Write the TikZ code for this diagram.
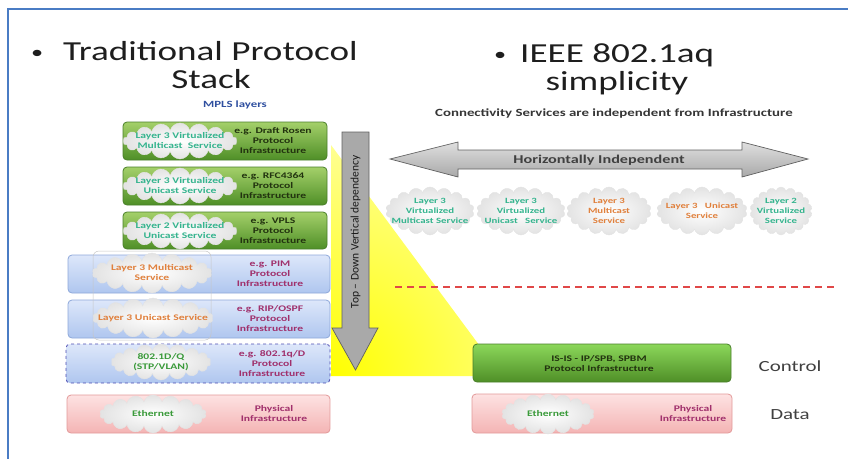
\documentclass[tikz,border=0pt]{standalone}
\usepackage{fontspec}
\setmainfont{Carlito}[FakeStretch=1.35]
\newfontfamily\narrowfont{Carlito}
\usetikzlibrary{shapes.symbols,fit,positioning}

\definecolor{framecol}{HTML}{4A7CC4}
\definecolor{titlecol}{HTML}{1E1E1E}
\definecolor{mplscol}{HTML}{2F4F9F}
\definecolor{greentop}{HTML}{A4D06A}
\definecolor{greenbot}{HTML}{4F8F27}
\definecolor{greenline}{HTML}{4A7F2A}
\definecolor{bluetop}{HTML}{DDE7FA}
\definecolor{bluebot}{HTML}{AFC6EF}
\definecolor{blueline}{HTML}{8EA8DA}
\definecolor{redtop}{HTML}{FDE2E2}
\definecolor{redbot}{HTML}{F4B4B4}
\definecolor{redline}{HTML}{E29A9A}
\definecolor{tealtxt}{HTML}{35B48E}
\definecolor{orangetxt}{HTML}{E0803C}
\definecolor{greentxt}{HTML}{3A9A3A}
\definecolor{purpletxt}{HTML}{A0306C}
\definecolor{darktxt}{HTML}{22330F}
\definecolor{arrowgray}{HTML}{A9A9A9}
\definecolor{cutred}{HTML}{E04848}

\begin{document}
\begin{tikzpicture}[
  x=1pt, y=-1pt,
  stackbox/.style={rounded corners=4pt, inner sep=0pt, line width=0.8pt},
  greenbox/.style={stackbox, draw=greenline, top color=greentop, bottom color=greenbot},
  bluebox/.style={stackbox, draw=blueline, top color=bluetop, bottom color=bluebot},
  redbox/.style={stackbox, draw=redline, top color=redtop, bottom color=redbot},
  blob/.style={cloud, cloud puffs=18, cloud puff arc=150, cloud ignores aspect, inner sep=0pt, draw=gray!22, inner color=white, outer color=gray!22},
  boxtxt/.style={font=\fontsize{8.6}{10}\selectfont\bfseries, align=center, inner sep=0pt},
  svctxt/.style={font=\fontsize{8}{10.3}\selectfont\bfseries, align=center, inner sep=0pt},
  title/.style={font=\fontsize{27.5}{30}\selectfont, text=titlecol, inner sep=0pt},
  bigarrow/.style={draw=gray!75!black, line width=0.7pt}
]
  \useasboundingbox (0,0) rectangle (848,458);
  \draw[framecol, line width=1.8pt] (8,9) rectangle (870,480);

  % yellow wedge behind the stack
  \begin{scope}
    \clip (331,145) -- (502,376) -- (331,376) -- cycle;
    \shade[inner color=yellow, outer color=yellow!6] (331,376) circle[radius=380];
  \end{scope}

  % titles
  \node[title, anchor=base west] (lefttitle) at (31,60) {\makebox[32pt][l]{\raisebox{2pt}{\fontsize{18}{18}\selectfont\textbullet}}Traditional Protocol};
  \node[title, anchor=base] (stack) at (211,88) {Stack};
  \node[font=\fontsize{9.5}{10}\selectfont\bfseries, text=mplscol, inner sep=0pt] (mpls) at (235,105) {MPLS layers};
  \node[title, anchor=base west] (righttitle) at (494,62) {\makebox[26pt][l]{\raisebox{2pt}{\fontsize{18}{18}\selectfont\textbullet}}IEEE 802.1aq};
  \node[title, anchor=base] (simp) at (617,90) {simplicity};
  \node[font=\fontsize{11}{12}\selectfont\bfseries, text=titlecol!90, inner sep=0pt] (conn) at (614,113) {Connectivity Services are independent from Infrastructure};

  % traditional stack
  \node[greenbox, fit={(123,122) (327,160)}] (mcast) {};
  \node[greenbox, fit={(123,167) (327,205)}] (ucast) {};
  \node[greenbox, fit={(123,212) (327,249)}] (vpls) {};
  \node[bluebox, fit={(68,255) (330,293)}] (pim) {};
  \node[bluebox, fit={(68,300) (330,338)}] (ospf) {};
  \node[bluebox, dashed, draw=gray!60!blue, fit={(66,344) (330,383)}] (dot1q) {};
  \node[redbox, fit={(67,395) (330,433)}] (phys) {};
  \draw[gray!45, line width=0.5pt, rounded corners=6pt] (93,251) rectangle (211,340);

  \node[blob, minimum width=114pt, minimum height=36pt] (mcastc) at (180,141) {};
  \node[boxtxt, text=tealtxt] (mcastl) at (mcastc) {Layer 3 Virtualized\\Multicast\ \ Service};
  \node[boxtxt, text=darktxt] (mcastr) at (273,141) {e.g. Draft Rosen\\Protocol\\Infrastructure};

  \node[blob, minimum width=114pt, minimum height=36pt] (ucastc) at (180,186) {};
  \node[boxtxt, text=tealtxt] (ucastl) at (ucastc) {Layer 3 Virtualized\\Unicast Service};
  \node[boxtxt, text=darktxt] (ucastr) at (273,186) {e.g. RFC4364\\Protocol\\Infrastructure};

  \node[blob, minimum width=114pt, minimum height=36pt] (vplsc) at (180,231) {};
  \node[boxtxt, text=tealtxt] (vplsl) at (vplsc) {Layer 2 Virtualized\\Unicast Service};
  \node[boxtxt, text=darktxt] (vplsr) at (273,231) {e.g. VPLS\\Protocol\\Infrastructure};

  \node[blob, minimum width=119pt, minimum height=40pt] (pimc) at (152,273) {};
  \node[boxtxt, text=orangetxt] (piml) at (pimc) {Layer 3 Multicast\\Service};
  \node[boxtxt, text=purpletxt] (pimr) at (270,274) {e.g. PIM\\Protocol\\Infrastructure};

  \node[blob, minimum width=120pt, minimum height=40pt] (ospfc) at (153,318) {};
  \node[boxtxt, text=orangetxt] (ospfl) at (ospfc) {Layer 3 Unicast Service};
  \node[boxtxt, text=purpletxt] (ospfr) at (270,319) {e.g. RIP/OSPF\\Protocol\\Infrastructure};

  \node[blob, minimum width=100pt, minimum height=36pt] (dot1qc) at (161,362) {};
  \node[boxtxt, text=greentxt] (dot1ql) at (dot1qc) {802.1D/Q\\(STP/VLAN)};
  \node[boxtxt, text=purpletxt] (dot1qr) at (272,364) {e.g. 802.1q/D\\Protocol\\Infrastructure};

  \node[blob, minimum width=106pt, minimum height=38pt] (physc) at (153,414) {};
  \node[boxtxt, text=greentxt] (physl) at (physc) {Ethernet};
  \node[boxtxt, text=purpletxt] (physr) at (274,414) {Physical\\Infrastructure};

  % vertical dependency arrow
  \draw[bigarrow, fill=arrowgray] (342,132) -- (369,132) -- (369,328) -- (378,328) -- (355.5,370) -- (332,328) -- (342,328) -- cycle;
  \node[rotate=90, font=\narrowfont\fontsize{11.5}{12}\selectfont, text=gray!20!black, inner sep=0pt] (vdep) at (355.5,232) {Top – Down Vertical dependency};

  % horizontal independence arrow
  \draw[bigarrow, top color=gray!25, bottom color=arrowgray] (390,159) -- (458,142) -- (458,150) -- (742,150) -- (742,142) -- (808,159) -- (742,177) -- (742,169) -- (458,169) -- (458,177) -- cycle;
  \node[font=\fontsize{12}{12}\selectfont\bfseries, text=titlecol!85, inner sep=0pt] (hind) at (599,160) {Horizontally Independent};

  \foreach \x/\w/\c/\t [count=\i] in {
      430/88/tealtxt/{Layer 3\\Virtualized\\Multicast Service},
      521/88/tealtxt/{Layer 3\\Virtualized\\Unicast\ \ \ Service},
      609/84/orangetxt/{Layer 3\\Multicast\\Service},
      702/90/orangetxt/{Layer 3\ \ \ Unicast\\Service},
      781/62/tealtxt/{Layer 2\\Virtualized\\Service}}
  {
    \node[blob, minimum width=\w pt, minimum height=48pt] (svc\i) at (\x,211) {};
    \node[svctxt, text=\c] (svcl\i) at (svc\i) {\t};
  }

  \coordinate (cutl) at (395,287);
  \coordinate (cutr) at (835,287);
  \draw[cutred, line width=1.1pt, dash pattern=on 7pt off 5pt] (cutl) -- (cutr);

  % 802.1aq stack
  \node[greenbox, top color=greentop!85!green, fit={(473,344) (731,382)}] (spb) {};
  \node[boxtxt, text=darktxt] (spbl) at (599,364) {IS-IS - IP/SPB, SPBM\\Protocol Infrastructure};
  \node[redbox, fit={(472,394) (732,433)}] (dphys) {};
  \node[blob, minimum width=92pt, minimum height=40pt] (deth) at (548,414) {};
  \node[boxtxt, text=greentxt] (dethl) at (deth) {Ethernet};
  \node[boxtxt, text=purpletxt] (dphysl) at (693,414) {Physical\\Infrastructure};
  \node[font=\fontsize{15.5}{16}\selectfont, text=titlecol!85, inner sep=0pt] (ctrl) at (790,366) {Control};
  \node[font=\fontsize{15.5}{16}\selectfont, text=titlecol!85, inner sep=0pt] (data) at (790,415) {Data};
\end{tikzpicture}
\end{document}
